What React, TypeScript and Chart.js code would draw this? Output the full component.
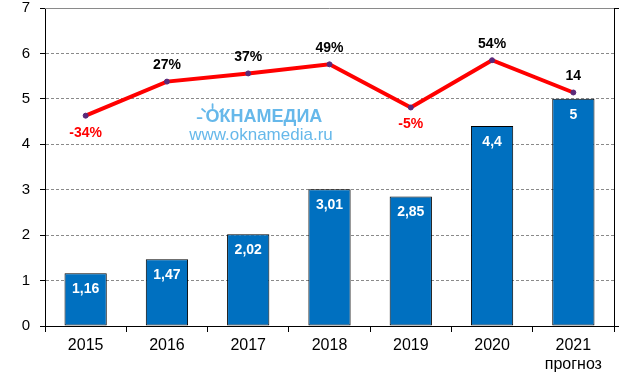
import React, { useEffect, useRef } from "react";
import { Chart, registerables } from "chart.js";

Chart.register(...registerables);

const categories: (string | string[])[] = ["2015", "2016", "2017", "2018", "2019", "2020", ["2021", "прогноз"]];
const barValues = [1.16, 1.47, 2.02, 3.01, 2.85, 4.4, 5];
const barLabels = ["1,16", "1,47", "2,02", "3,01", "2,85", "4,4", "5"];
const lineValues = [4.63, 5.38, 5.56, 5.76, 4.81, 5.85, 5.14];
const lineLabels = ["-34%", "27%", "37%", "49%", "-5%", "54%", "14"];
const yTicks = [0, 1, 2, 3, 4, 5, 6, 7];

const FONT = "'Liberation Sans', Arial, sans-serif";

const decorPlugin = {
  id: "decor",
  beforeDatasetsDraw(chart: any) {
    const { ctx, chartArea } = chart;
    const { left, right, top, bottom } = chartArea;
    const w = right - left;
    const h = bottom - top;
    ctx.save();
    const cx = left + w * 0.376;
    const cy = top + h * 0.343;
    ctx.fillStyle = "#66B8EA";
    ctx.strokeStyle = "#66B8EA";
    ctx.textAlign = "center";
    ctx.textBaseline = "middle";
    ctx.font = `bold 18px ${FONT}`;
    ctx.fillText("ОКНАМЕДИА", cx + 5, cy);
    const tw = ctx.measureText("ОКНАМЕДИА").width;
    const ox = cx + 5 - tw / 2 + 7;
    const oy = cy + 1;
    ctx.lineWidth = 1.8;
    ctx.lineCap = "round";
    const rays = [[-0.75, -0.65], [0, -1], [0.75, -0.65]];
    for (const [dx, dy] of rays) {
      ctx.beginPath();
      ctx.moveTo(ox + dx * 10, oy + dy * 10);
      ctx.lineTo(ox + dx * 14, oy + dy * 14);
      ctx.stroke();
    }
    ctx.beginPath();
    ctx.moveTo(ox - 15, oy);
    ctx.lineTo(ox - 11, oy);
    ctx.stroke();
    ctx.font = `17px ${FONT}`;
    ctx.fillText("www.oknamedia.ru", cx + 2, cy + 18);
    ctx.restore();
  },
  afterDraw(chart: any) {
    const { ctx, chartArea } = chart;
    const { left, right, top, bottom } = chartArea;
    ctx.save();
    ctx.lineWidth = 1;
    ctx.strokeStyle = "#8a8a8a";
    ctx.beginPath();
    ctx.moveTo(left, Math.round(top) + 0.5);
    ctx.lineTo(right, Math.round(top) + 0.5);
    ctx.stroke();
    ctx.strokeStyle = "#000";
    ctx.beginPath();
    ctx.moveTo(Math.round(right) + 0.5, top);
    ctx.lineTo(Math.round(right) + 0.5, bottom);
    ctx.moveTo(right, Math.round(top) + 0.5);
    ctx.lineTo(right + 5, Math.round(top) + 0.5);
    ctx.moveTo(right, Math.round(bottom) + 0.5);
    ctx.lineTo(right + 5, Math.round(bottom) + 0.5);
    ctx.stroke();
    ctx.restore();
  },
  afterDatasetsDraw(chart: any) {
    const { ctx } = chart;
    ctx.save();
    ctx.textAlign = "center";
    ctx.textBaseline = "middle";
    const barMeta = chart.getDatasetMeta(0);
    ctx.font = `bold 14px ${FONT}`;
    ctx.fillStyle = "#ffffff";
    barMeta.data.forEach((el: any, i: number) => {
      ctx.fillText(barLabels[i], el.x, el.y + 16);
    });
    const lineMeta = chart.getDatasetMeta(1);
    lineMeta.data.forEach((el: any, i: number) => {
      const txt = lineLabels[i];
      const neg = txt.startsWith("-");
      ctx.fillStyle = neg ? "#FF0000" : "#000000";
      ctx.fillText(txt, el.x, neg ? el.y + 17 : el.y - 16);
    });
    ctx.restore();
  },
};

export default function App() {
  const ref = useRef<HTMLCanvasElement>(null);
  useEffect(() => {
    if (!ref.current) return;
    const chart = new Chart(ref.current, {
      type: "bar",
      data: {
        labels: categories as any,
        datasets: [
          {
            type: "bar",
            data: barValues,
            backgroundColor: "#0070C0",
            borderColor: "#000000",
            borderWidth: 1,
            borderSkipped: false,
            categoryPercentage: 1,
            barPercentage: 0.52,
            order: 2,
          },
          {
            type: "line",
            data: lineValues,
            borderColor: "#FF0000",
            borderWidth: 4,
            pointRadius: 2.5,
            pointBackgroundColor: "#5A2A7A",
            pointBorderColor: "#5A2A7A",
            pointBorderWidth: 1,
            tension: 0,
            order: 1,
          } as any,
        ],
      },
      options: {
        responsive: false,
        animation: false,
        layout: { padding: { top: 8, right: 26, left: 0, bottom: 0 } },
        plugins: { legend: { display: false }, tooltip: { enabled: false } },
        scales: {
          x: {
            offset: true,
            grid: {
              offset: true,
              drawOnChartArea: false,
              drawTicks: true,
              tickLength: 6,
              tickColor: "#000",
            },
            border: { color: "#000", width: 1 },
            ticks: {
              color: "#000",
              font: { family: FONT, size: 16 },
              padding: 4,
              maxRotation: 0,
            },
            afterFit: (s: any) => {
              s.height = 49;
              s.paddingLeft = 0;
              s.paddingRight = 0;
            },
          },
          y: {
            min: 0,
            max: 7,
            afterBuildTicks: (s: any) => {
              s.ticks = yTicks.map((v) => ({ value: v }));
            },
            grid: {
              color: (c: any) => (c.tick && (c.tick.value === 7 || c.tick.value === 0) ? "rgba(0,0,0,0)" : "#8a8a8a"),
              tickColor: "#000",
              tickLength: 5,
              lineWidth: 1,
            },
            border: { color: "#000", width: 1, dash: [3, 2] },
            ticks: {
              color: "#000",
              font: { family: FONT, size: 15 },
              padding: 10,
            },
            afterFit: (s: any) => {
              s.width = 45;
              s.paddingTop = 0;
              s.paddingBottom = 0;
            },
          },
        },
      },
      plugins: [decorPlugin],
    });
    return () => chart.destroy();
  }, []);
  return (
    <div style={{ position: "fixed", left: 0, top: 0, width: 640, height: 375, background: "#fff" }}>
      <canvas ref={ref} width={640} height={375} />
    </div>
  );
}
